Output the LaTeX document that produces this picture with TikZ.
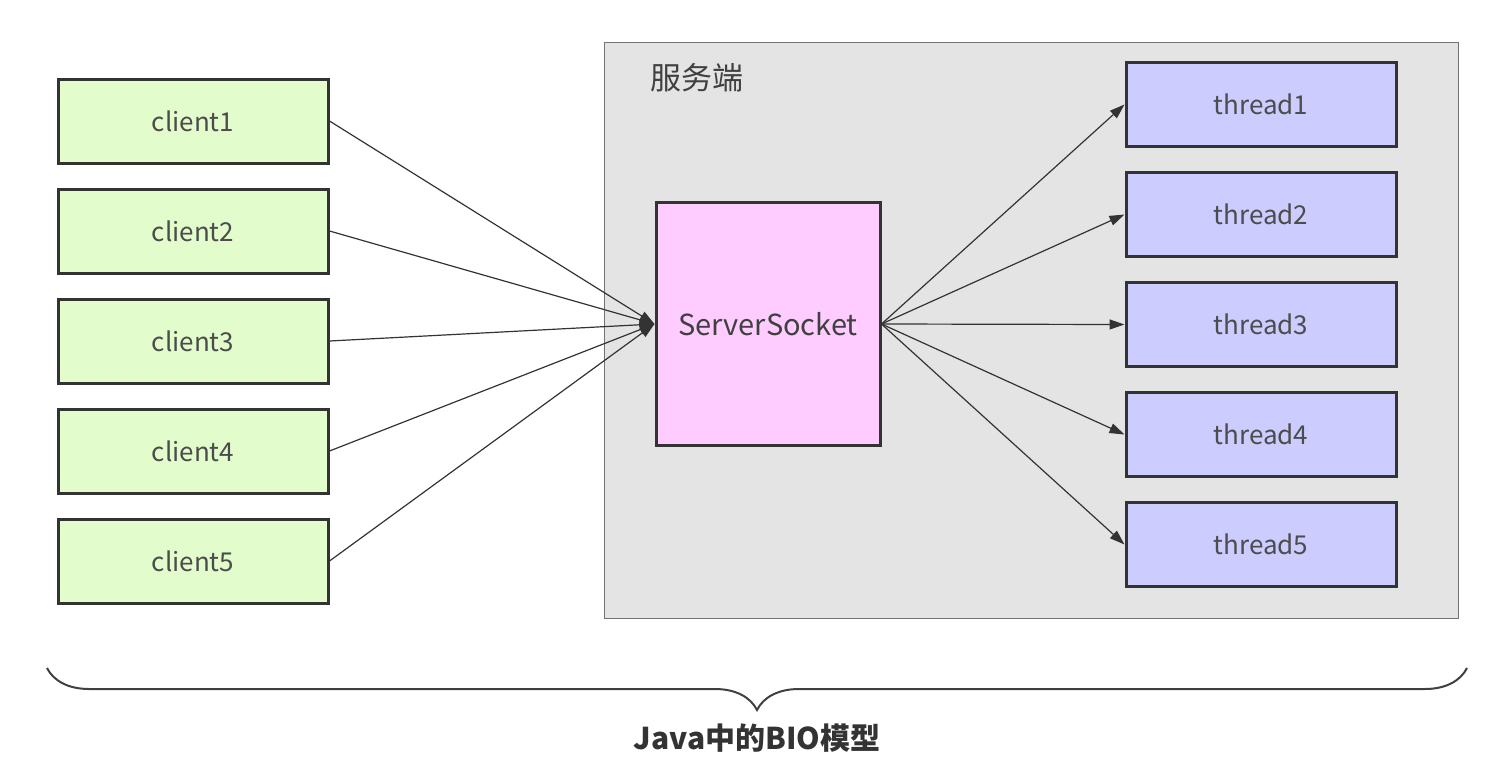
\documentclass[tikz,border=0pt]{standalone}
\usepackage{fontspec}
\setmainfont{Noto Sans CJK SC}
\usetikzlibrary{positioning, arrows.meta, decorations.pathreplacing}

\definecolor{clientgreen}{HTML}{E2FDCB}
\definecolor{threadblue}{HTML}{CCCCFF}
\definecolor{sockpink}{HTML}{FFCCFF}
\definecolor{srvgray}{HTML}{E4E4E4}
\definecolor{boxline}{HTML}{333333}

\begin{document}
\begin{tikzpicture}[
  x=0.5pt, y=-0.5pt,
  node distance=11.5pt and 11.5pt,
  client/.style={draw=boxline, line width=1.5pt, fill=clientgreen, minimum width=135pt,
                 minimum height=42pt, font=\fontsize{13pt}{15pt}\selectfont, text=black!70},
  thread/.style={client, fill=threadblue},
  sock/.style={draw=boxline, line width=1.5pt, fill=sockpink, minimum width=112pt,
               minimum height=121.5pt, font=\fontsize{14.5pt}{17pt}\selectfont, text=black!75},
  server/.style={draw=black!55, line width=0.7pt, fill=srvgray, minimum width=427pt,
                 minimum height=288pt},
  srvlabel/.style={font=\fontsize{15.5pt}{18pt}\selectfont, text=black!75, inner sep=0pt},
  arr/.style={-{Triangle[length=7.5pt, width=5pt]}, line width=0.6pt, draw=black!80},
  bigbrace/.style={decorate, decoration={brace, mirror, amplitude=21pt}, line width=1pt, draw=black!75},
  title/.style={font=\fontsize{15pt}{18pt}\selectfont\bfseries, text=black!80}
]
\useasboundingbox (0,0) rectangle (1510,782);

% Server area
\node[server, anchor=north west] (srv) at (604,42) {};
\node[srvlabel, anchor=west] (srvname) at (650,78) {服务端};

% Nodes
\node[client] (c1) at (193,121) {client1};
\node[client, below=of c1] (c2) {client2};
\node[client, below=of c2] (c3) {client3};
\node[client, below=of c3] (c4) {client4};
\node[client, below=of c4] (c5) {client5};

\node[sock] (sock) at (768,324) {ServerSocket};

\node[thread] (t1) at (1261,104.5) {thread1};
\node[thread, below=of t1] (t2) {thread2};
\node[thread, below=of t2] (t3) {thread3};
\node[thread, below=of t3] (t4) {thread4};
\node[thread, below=of t4] (t5) {thread5};

% Arrows
\draw[arr] (c1.east) -- (sock.west);
\draw[arr] (c2.east) -- (sock.west);
\draw[arr] (c3.east) -- (sock.west);
\draw[arr] (c4.east) -- (sock.west);
\draw[arr] (c5.east) -- (sock.west);

\draw[arr] (sock.east) -- (t1.west);
\draw[arr] (sock.east) -- (t2.west);
\draw[arr] (sock.east) -- (t3.west);
\draw[arr] (sock.east) -- (t4.west);
\draw[arr] (sock.east) -- (t5.west);

% Brace
\coordinate (bl) at (47,668);
\coordinate (br) at (1467,668);
\draw[bigbrace] (bl) -- (br);
\node[title] (title) at (757,738) {Java中的BIO模型};

\end{tikzpicture}
\end{document}
